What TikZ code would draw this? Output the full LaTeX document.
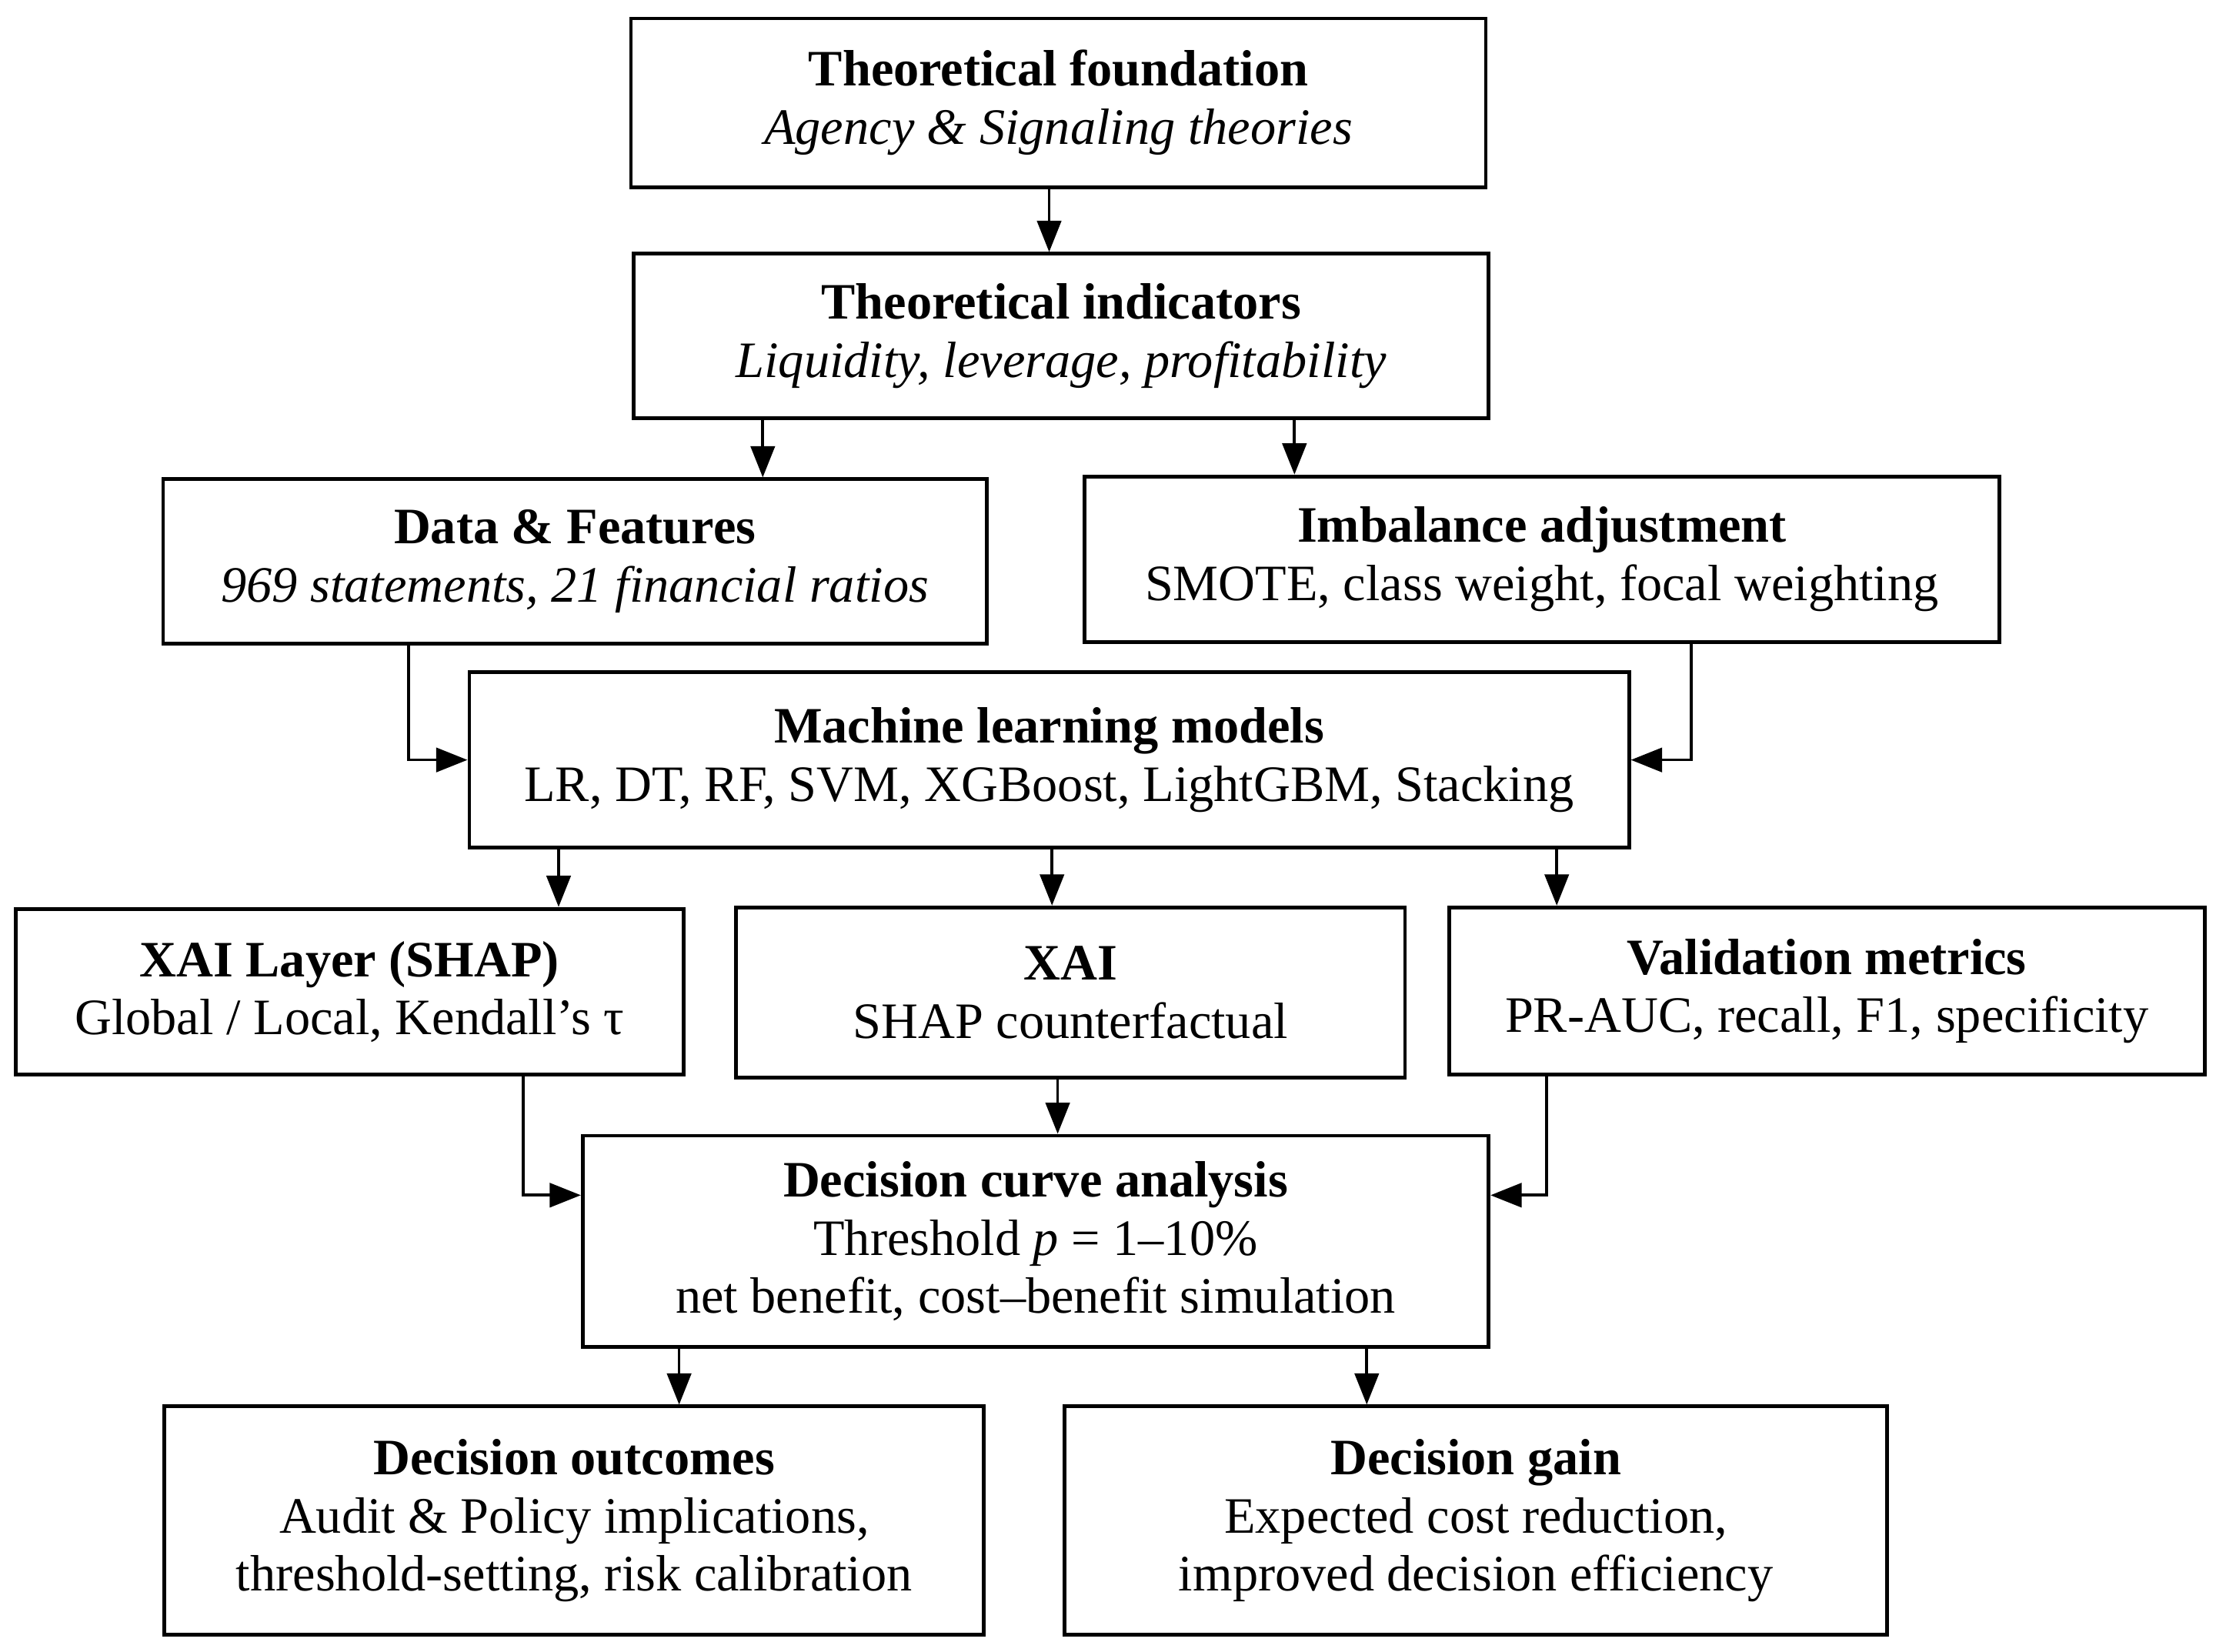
\documentclass[tikz,border=0pt]{standalone}
\usepackage{fontspec}
\setmainfont{Liberation Serif}
\usetikzlibrary{arrows.meta}
\begin{document}
\begin{tikzpicture}[x=0.5pt,y=-0.5pt,
  box/.style={draw=black, line width=1.3pt, inner sep=0pt, align=center, font=\fontsize{18pt}{20.5pt}\selectfont},
  arr/.style={line width=1pt, -{Triangle[length=11pt,width=8.5pt]}}]
\useasboundingbox (0,0) rectangle (1563,1165);
\node[box, minimum width=301.5pt, minimum height=59.5pt] (a) at (746.5,72.5) {\textbf{Theoretical foundation}\\\textit{Agency \& Signaling theories}};
\node[box, minimum width=301.5pt, minimum height=58pt] (b) at (748.5,237) {\textbf{Theoretical indicators}\\\textit{Liquidity, leverage, profitability}};
\node[box, minimum width=290.5pt, minimum height=58pt] (c) at (405.5,396) {\textbf{Data \& Features}\\\textit{969 statements, 21 financial ratios}};
\node[box, minimum width=322.5pt, minimum height=58.5pt] (d) at (1087.5,394.5) {\textbf{Imbalance adjustment}\\SMOTE, class weight, focal weighting};
\node[box, minimum width=409pt, minimum height=62pt] (e) at (740,536) {\textbf{Machine learning models}\\LR, DT, RF, SVM, XGBoost, LightGBM, Stacking};
\node[box, minimum width=235.5pt, minimum height=58.5pt] (f) at (246.5,699.5) {\textbf{XAI Layer (SHAP)}\\Global / Local, Kendall’s τ};
\node[box, minimum width=236pt, minimum height=60pt] (g) at (755,700) {\textbf{XAI}\\SHAP counterfactual};
\node[box, minimum width=266.5pt, minimum height=59pt] (h) at (1288.5,699) {\textbf{Validation metrics}\\PR-AUC, recall, F1, specificity};
\node[box, minimum width=319.5pt, minimum height=74.5pt] (i) at (730.5,875.5) {\textbf{Decision curve analysis}\\Threshold \textit{p} = 1–10\%\\net benefit, cost–benefit simulation};
\node[box, minimum width=289pt, minimum height=80.5pt] (j) at (405,1072.5) {\textbf{Decision outcomes}\\Audit \& Policy implications,\\threshold-setting, risk calibration};
\node[box, minimum width=290pt, minimum height=80.5pt] (k) at (1041,1072.5) {\textbf{Decision gain}\\Expected cost reduction,\\improved decision efficiency};
\draw[arr] (a.south -| 740,0) -- (b.north -| 740,0);
\draw[arr] (b.south -| 538,0) -- (c.north -| 538,0);
\draw[arr] (b.south -| 913,0) -- (d.north -| 913,0);
\draw[arr] (c.south -| 288,0) |- (e.west);
\draw[arr] (d.south -| 1193,0) |- (e.east);
\draw[arr] (e.south -| 394,0) -- (f.north -| 394,0);
\draw[arr] (e.south -| 742,0) -- (g.north -| 742,0);
\draw[arr] (e.south -| 1098,0) -- (h.north -| 1098,0);
\draw[arr] (f.south -| 369,0) |- (i.west |- 0,843);
\draw[arr] (g.south -| 746,0) -- (i.north -| 746,0);
\draw[arr] (h.south -| 1091,0) |- (i.east |- 0,843);
\draw[arr] (i.south -| 479,0) -- (j.north -| 479,0);
\draw[arr] (i.south -| 964,0) -- (k.north -| 964,0);
\end{tikzpicture}
\end{document}
